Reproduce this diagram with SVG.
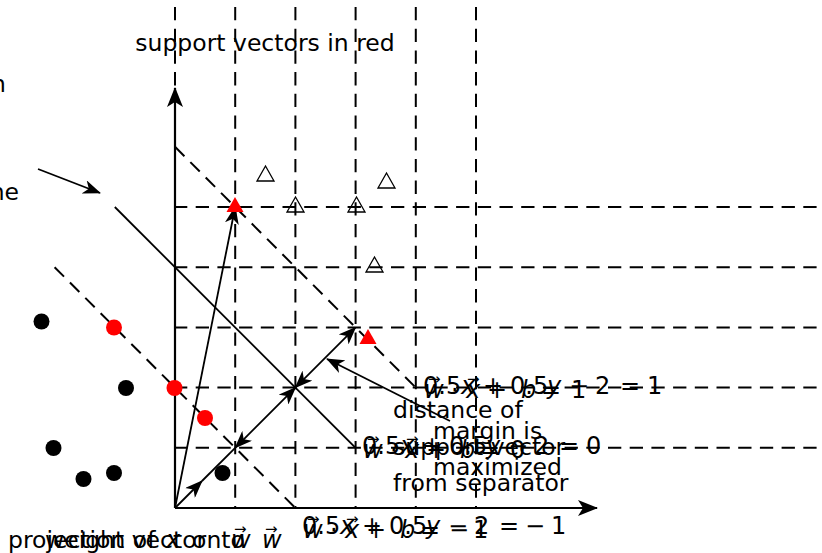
<svg xmlns="http://www.w3.org/2000/svg" width="822" height="553" viewBox="0 0 822 553">
<defs>
<style>
.grid{stroke:#000;stroke-width:2;stroke-dasharray:13.3 8.4;fill:none}
.axis{stroke:#000;stroke-width:2.2;fill:none}
.vec{stroke:#000;stroke-width:1.8;fill:none}
.txt{font-family:"DejaVu Sans",sans-serif;font-size:23.5px;fill:#000}
.m{font-family:"DejaVu Sans",sans-serif;font-size:24px;fill:#000}
.i{font-style:italic}
.acc{font-family:"DejaVu Sans",sans-serif;font-size:15px;fill:#000}
.tri{fill:none;stroke:#000;stroke-width:1.3}
.red{fill:#ff0000}
.blk{fill:#000}
</style>
<marker id="ah" markerUnits="userSpaceOnUse" viewBox="0 0 20 16" markerWidth="20" markerHeight="16" refX="19" refY="8" orient="auto-start-reverse"><path d="M0,0 L20,8 L0,16 L5,8 Z" fill="#000"/></marker>
<marker id="ahs" markerUnits="userSpaceOnUse" viewBox="0 0 18 14" markerWidth="18" markerHeight="14" refX="17" refY="7" orient="auto-start-reverse"><path d="M0,0 L18,7 L0,14 L5,7 Z" fill="#000"/></marker>
<polygon id="tri" points="0,-8 8.5,7 -8.5,7"/>
</defs>

<g id="grid">
<path class="grid" d="M175,7V508M235.2,7V508M295.4,7V508M355.6,7V508M415.8,7V508M476,7V508"/>
<path class="grid" d="M174,207H830M174,267.2H830M174,327.4H830M174,387.6H830M174,447.8H830"/>
<path class="grid" d="M175,146.8L415.8,387.6M54.6,267.2L295.4,508"/>
</g>

<g id="axes">
<path class="axis" d="M175,508V88" marker-end="url(#ah)"/>
<path class="axis" d="M175,508H597" marker-end="url(#ah)"/>
</g>

<g id="connectors">
<path id="separator" class="vec" d="M114.8,207L355.6,447.8"/>
<path class="vec" d="M175,508L235.2,207" marker-end="url(#ahs)"/>
<path class="vec" d="M175,508L202,481" marker-end="url(#ahs)"/>
<path class="vec" d="M202,481L235.2,447.8"/>
<path class="vec" d="M235.2,447.8L295.4,387.6" marker-start="url(#ahs)" marker-end="url(#ahs)"/>
<path class="vec" d="M295.4,387.6L355.6,327.4" marker-start="url(#ahs)" marker-end="url(#ahs)"/>
<path class="vec" d="M450,421L327,359" marker-end="url(#ahs)"/>
<path class="vec" d="M38,169L100,193" marker-end="url(#ahs)"/>
</g>

<g id="points">
<g id="pt-b1"><circle class="blk" cx="41.5" cy="321.5" r="8"/></g>
<g id="pt-b2"><circle class="blk" cx="126" cy="388" r="8"/></g>
<g id="pt-b3"><circle class="blk" cx="53.5" cy="448" r="8"/></g>
<g id="pt-b4"><circle class="blk" cx="83.5" cy="479" r="8"/></g>
<g id="pt-b5"><circle class="blk" cx="114" cy="473" r="8"/></g>
<g id="pt-b6"><circle class="blk" cx="222.5" cy="473" r="8"/></g>
<g id="pt-r1"><circle class="red" cx="114" cy="327.5" r="8"/></g>
<g id="pt-r2"><circle class="red" cx="174.5" cy="388" r="8"/></g>
<g id="pt-r3"><circle class="red" cx="205" cy="418" r="8"/></g>
<g id="tri-1"><use href="#tri" class="tri" x="265.5" y="174"/></g>
<g id="tri-2"><use href="#tri" class="tri" x="295.5" y="205"/></g>
<g id="tri-3"><use href="#tri" class="tri" x="356.5" y="205"/></g>
<g id="tri-4"><use href="#tri" class="tri" x="386.5" y="181"/></g>
<g id="tri-5"><use href="#tri" class="tri" x="374.5" y="265"/></g>
<g id="tri-r1"><use href="#tri" class="red" x="235" y="205"/></g>
<g id="tri-r2"><use href="#tri" class="red" x="368" y="337"/></g>
</g>

<g id="label-title"><text class="txt" x="265" y="51" text-anchor="middle">support vectors in red</text></g>
<g id="label-left1"><text class="txt" x="6" y="92" text-anchor="end">n</text></g>
<g id="label-left2"><text class="txt" x="19" y="200" text-anchor="end">ne</text></g>

<g id="label-upper">
<text class="m" y="394"><tspan x="423">0.5</tspan><tspan x="461" class="i">x</tspan><tspan x="483">+</tspan><tspan x="510">0.5</tspan><tspan x="547" class="i">y</tspan><tspan x="569">−</tspan><tspan x="595">2</tspan><tspan x="620">=</tspan><tspan x="647">1</tspan></text>
<text class="m" y="398"><tspan x="424" class="i">w</tspan><tspan x="451">·</tspan><tspan x="466" class="i">x</tspan><tspan x="487">+</tspan><tspan x="521" class="i">b</tspan><tspan x="541">=</tspan><tspan x="571">1</tspan></text>
<text class="acc" y="384"><tspan x="428">→</tspan><tspan x="467">→</tspan></text>
</g>

<g id="label-middle">
<text class="m" y="454"><tspan x="362">0.5</tspan><tspan x="400" class="i">x</tspan><tspan x="422">+</tspan><tspan x="449">0.5</tspan><tspan x="486" class="i">y</tspan><tspan x="508">−</tspan><tspan x="534">2</tspan><tspan x="559">=</tspan><tspan x="586">0</tspan></text>
<text class="m" y="458"><tspan x="363" class="i">w</tspan><tspan x="390">·</tspan><tspan x="405" class="i">x</tspan><tspan x="426">+</tspan><tspan x="460" class="i">b</tspan><tspan x="480">=</tspan><tspan x="510">0</tspan></text>
<text class="acc" y="444"><tspan x="367">→</tspan><tspan x="406">→</tspan></text>
</g>

<g id="label-lower">
<text class="m" y="534"><tspan x="302">0.5</tspan><tspan x="340" class="i">x</tspan><tspan x="362">+</tspan><tspan x="389">0.5</tspan><tspan x="426" class="i">y</tspan><tspan x="448">−</tspan><tspan x="474">2</tspan><tspan x="499">=</tspan><tspan x="525">−</tspan><tspan x="551">1</tspan></text>
<text class="m" y="538"><tspan x="303" class="i">w</tspan><tspan x="330">·</tspan><tspan x="345" class="i">x</tspan><tspan x="366">+</tspan><tspan x="400" class="i">b</tspan><tspan x="420">=</tspan><tspan x="449">−</tspan><tspan x="473">1</tspan></text>
<text class="acc" y="524"><tspan x="307">→</tspan><tspan x="346">→</tspan></text>
</g>

<g id="label-distance">
<text class="txt" x="393" y="418">distance of</text>
<text class="txt" x="393" y="455">support vector</text>
<text class="txt" x="393" y="491">from separator</text>
</g>
<g id="label-margin">
<text class="txt" x="433" y="439">margin is</text>
<text class="txt" x="433" y="475">maximized</text>
</g>

<g id="label-projection">
<text class="txt" y="548"><tspan x="8">projection of</tspan><tspan class="m i" x="166">x</tspan><tspan x="192">onto</tspan><tspan class="m i" x="262">w</tspan></text>
<text class="acc" x="265" y="534">→</text>
</g>
<g id="label-weight">
<text class="txt" y="548"><tspan x="45">weight vector</tspan><tspan class="m i" x="231">w</tspan></text>
<text class="acc" x="234" y="534">→</text>
</g>
</svg>
